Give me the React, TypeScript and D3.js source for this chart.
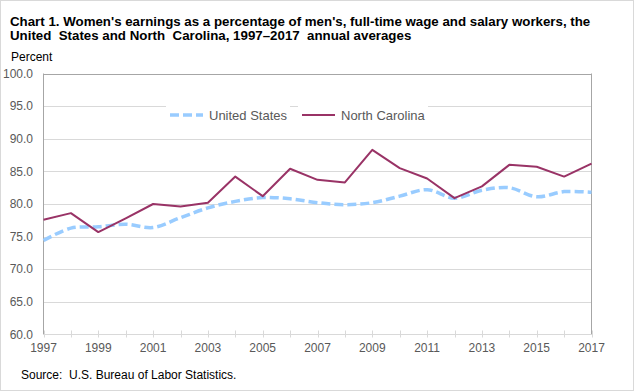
import * as d3 from 'd3';
import React, { useEffect, useRef } from 'react';

// annual averages, women's earnings as % of men's
const years = d3.range(1997, 2018);
const usValues = [
   74.4, 76.3, 76.5, 76.9, 76.4, 77.9, 79.4, 80.4, 81.0, 80.8, 80.2, 79.9, 80.2,
   81.2, 82.2, 80.9, 82.1, 82.5, 81.1, 81.9, 81.8,
];
const ncValues = [
   77.6, 78.6, 75.7, 77.8, 80.0, 79.6, 80.2, 84.2, 81.2, 85.4, 83.7, 83.3, 88.3,
   85.5, 83.9, 80.9, 82.7, 86.0, 85.7, 84.2, 86.2,
];
const seriesNames = ['United States', 'North Carolina'];
const yTicks = [60, 65, 70, 75, 80, 85, 90, 95, 100];
const xLabelYears = d3.range(1997, 2018, 2);

const titleLines = [
   "Chart 1. Women's earnings as a percentage of men's, full-time wage and salary workers, the",
   'United  States and North  Carolina, 1997–2017  annual averages',
];

const WIDTH = 634;
const HEIGHT = 392;
const FONT = '"Liberation Sans", Arial, sans-serif';
const US_COLOR = '#99CCFF';
const NC_COLOR = '#993366';
const GRID = '#D9D9D9';
const AXIS = '#A6A6A6';
const LABEL = '#595959';

const App = () => {
   const svgRef = useRef<SVGSVGElement | null>(null);

   useEffect(() => {
      const svgEl = svgRef.current;
      if (!svgEl) {
         return;
      }
      const svg = d3.select(svgEl);
      svg.selectAll('*').remove();

      const plot = { left: 43.5, right: 591.5, top: 73.5, bottom: 334.5 };

      const xScale = d3
         .scaleLinear()
         .domain([1997, 2017])
         .range([plot.left, plot.right]);
      const yScale = d3
         .scaleLinear()
         .domain([60, 100])
         .range([plot.bottom, plot.top]);

      // outer frame
      svg.append('rect')
         .attr('x', 0.5)
         .attr('y', 0.5)
         .attr('width', WIDTH - 1)
         .attr('height', HEIGHT - 2)
         .attr('fill', '#fff')
         .attr('stroke', GRID);

      // title
      titleLines.forEach((line, i) => {
         svg.append('text')
            .attr('x', 10)
            .attr('y', 25.5 + i * 14)
            .attr('font-family', FONT)
            .attr('font-size', 13.3)
            .attr('font-weight', 'bold')
            .attr('fill', '#000')
            .style('white-space', 'pre')
            .text(line);
      });

      svg.append('text')
         .attr('x', 11)
         .attr('y', 60.5)
         .attr('font-family', FONT)
         .attr('font-size', 12)
         .attr('fill', '#000')
         .text('Percent');

      // horizontal gridlines
      svg.append('g')
         .selectAll('line')
         .data(yTicks.slice(1))
         .join('line')
         .attr('x1', plot.left)
         .attr('x2', plot.right)
         .attr('y1', (d) => Math.round(yScale(d)) + 0.5)
         .attr('y2', (d) => Math.round(yScale(d)) + 0.5)
         .attr('stroke', (d) => (d === 100 ? AXIS : GRID))
         .attr('stroke-width', 1);

      // y tick labels
      svg.append('g')
         .selectAll('text')
         .data(yTicks)
         .join('text')
         .attr('x', 33)
         .attr('y', (d) => yScale(d))
         .attr('dy', '0.35em')
         .attr('text-anchor', 'end')
         .attr('font-family', FONT)
         .attr('font-size', 12)
         .attr('fill', LABEL)
         .text((d) => d.toFixed(1));

      // left axis and right border
      [plot.left, plot.right].forEach((x) => {
         svg.append('line')
            .attr('x1', x)
            .attr('x2', x)
            .attr('y1', plot.top)
            .attr('y2', plot.bottom)
            .attr('stroke', AXIS);
      });

      // bottom axis with crossing ticks
      svg.append('line')
         .attr('x1', plot.left)
         .attr('x2', plot.right)
         .attr('y1', plot.bottom)
         .attr('y2', plot.bottom)
         .attr('stroke', GRID);

      svg.append('g')
         .selectAll('line')
         .data(years)
         .join('line')
         .attr('x1', (d) => Math.round(xScale(d)) + 0.5)
         .attr('x2', (d) => Math.round(xScale(d)) + 0.5)
         .attr('y1', plot.bottom - 4)
         .attr('y2', plot.bottom + 3)
         .attr('stroke', GRID);

      svg.append('g')
         .selectAll('text')
         .data(xLabelYears)
         .join('text')
         .attr('x', (d) => xScale(d))
         .attr('y', 352)
         .attr('text-anchor', 'middle')
         .attr('font-family', FONT)
         .attr('font-size', 12)
         .attr('fill', LABEL)
         .text((d) => String(d));

      // series
      const usLine = d3
         .line<number>()
         .x((_, i) => xScale(years[i]))
         .y((v) => yScale(v))
         .curve(d3.curveCatmullRom.alpha(0.5));

      const ncLine = d3
         .line<number>()
         .x((_, i) => xScale(years[i]))
         .y((v) => yScale(v));

      svg.append('path')
         .datum(usValues)
         .attr('fill', 'none')
         .attr('stroke', US_COLOR)
         .attr('stroke-width', 3.5)
         .attr('stroke-dasharray', '9,4')
         .attr('d', usLine);

      svg.append('path')
         .datum(ncValues)
         .attr('fill', 'none')
         .attr('stroke', NC_COLOR)
         .attr('stroke-width', 2)
         .attr('stroke-linejoin', 'round')
         .attr('d', ncLine);

      // legend
      const legendY = 115;
      const legend = [
         { name: seriesNames[0], x: 170, color: US_COLOR, width: 3.5, dash: '9,4' },
         { name: seriesNames[1], x: 302, color: NC_COLOR, width: 2, dash: null },
      ];
      legend.forEach((item) => {
         svg.append('rect')
            .attr('x', item.x - 4)
            .attr('y', legendY - 9)
            .attr('width', item.name === seriesNames[0] ? 124 : 130)
            .attr('height', 18)
            .attr('fill', '#fff');
         svg.append('line')
            .attr('x1', item.x)
            .attr('x2', item.x + 33)
            .attr('y1', legendY)
            .attr('y2', legendY)
            .attr('stroke', item.color)
            .attr('stroke-width', item.width)
            .attr('stroke-dasharray', item.dash);
         svg.append('text')
            .attr('x', item.x + 39)
            .attr('y', legendY)
            .attr('dy', '0.35em')
            .attr('font-family', FONT)
            .attr('font-size', 13)
            .attr('fill', LABEL)
            .text(item.name);
      });

      svg.append('text')
         .attr('x', 21)
         .attr('y', 379)
         .attr('font-family', FONT)
         .attr('font-size', 12)
         .attr('fill', '#000')
         .style('white-space', 'pre')
         .text('Source:  U.S. Bureau of Labor Statistics.');
   }, []);

   return (
      <div style={{ position: 'absolute', left: 0, top: 0 }}>
         <svg ref={svgRef} width={WIDTH} height={HEIGHT} />
      </div>
   );
};

export default App;
